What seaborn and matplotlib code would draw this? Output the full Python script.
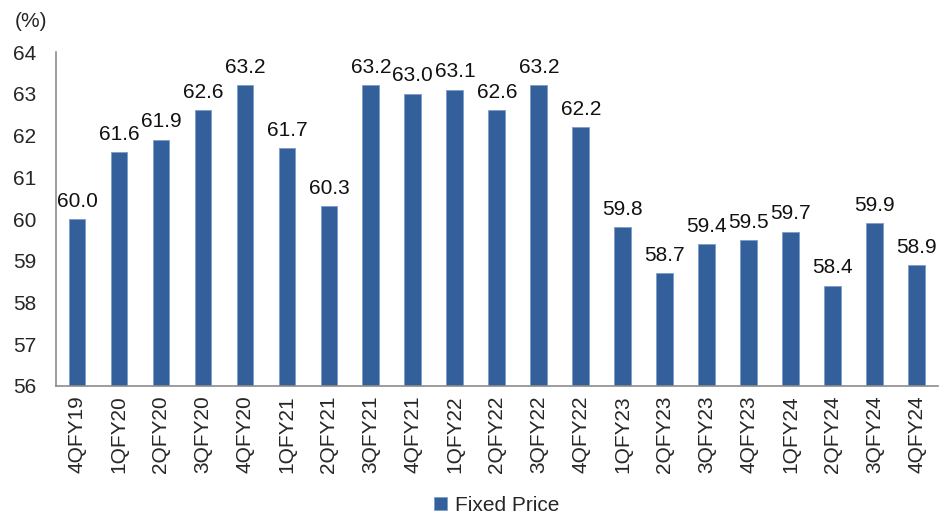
import matplotlib
matplotlib.use("Agg")
import matplotlib.pyplot as plt
import seaborn as sns
import pandas as pd
import numpy as np

quarters = ["4QFY19", "1QFY20", "2QFY20", "3QFY20", "4QFY20", "1QFY21", "2QFY21",
            "3QFY21", "4QFY21", "1QFY22", "2QFY22", "3QFY22", "4QFY22", "1QFY23",
            "2QFY23", "3QFY23", "4QFY23", "1QFY24", "2QFY24", "3QFY24", "4QFY24"]
fixed_price = [60.0, 61.6, 61.9, 62.6, 63.2, 61.7, 60.3, 63.2, 63.0, 63.1, 62.6,
               63.2, 62.2, 59.8, 58.7, 59.4, 59.5, 59.7, 58.4, 59.9, 58.9]
y_ticks = [56, 57, 58, 59, 60, 61, 62, 63, 64]

df = pd.DataFrame({"quarter": quarters, "share": fixed_price})

sns.set_style("white")
plt.rcParams["font.family"] = ["Liberation Sans", "DejaVu Sans"]

bar_color = "#33609A"
spine_color = "#8C8C8C"
fs = 15

fig = plt.figure(figsize=(9.52, 5.15), dpi=100)
ax = fig.add_axes([0.0588, 0.2505, 0.9262, 0.6485])

sns.barplot(data=df, x="quarter", y="share", color=bar_color, width=0.4,
            saturation=1, edgecolor="#7C9CCB", linewidth=0.6, ax=ax, label="Fixed Price")

ax.set_ylim(56, 64)
ax.set_xlim(-0.5, len(quarters) - 0.5)
ax.set_yticks(y_ticks)
ax.set_yticklabels([str(t) for t in y_ticks], fontsize=fs)
ax.set_xticks(range(len(quarters)))
ax.set_xticklabels(quarters, rotation=90, fontsize=fs)
ax.set_xticks(np.arange(-0.5, len(quarters), 1.0), minor=True)
ax.tick_params(axis="x", which="major", length=0, pad=7)
ax.tick_params(axis="x", which="minor", length=5, width=1.2, color=spine_color, direction="out")
ax.tick_params(axis="y", length=5, width=1.2, color=spine_color, direction="out", pad=9)
ax.set_xlabel("")
ax.set_ylabel("")

for s in ["top", "right"]:
    ax.spines[s].set_visible(False)
for s in ["left", "bottom"]:
    ax.spines[s].set_color(spine_color)
    ax.spines[s].set_linewidth(1.2)

for i, v in enumerate(fixed_price):
    ax.annotate(f"{v:.1f}", xy=(i, v), xytext=(0, 6), textcoords="offset points",
                ha="center", va="bottom", fontsize=fs, color="#111111")

fig.text(0.016, 0.958, "(%)", fontsize=fs, ha="left", va="center")

ax.legend(loc="center", bbox_to_anchor=(0.5, -0.357), frameon=False, fontsize=fs,
          handlelength=0.6, handleheight=0.6, handletextpad=0.4)

fig.savefig("out.png", dpi=100)
